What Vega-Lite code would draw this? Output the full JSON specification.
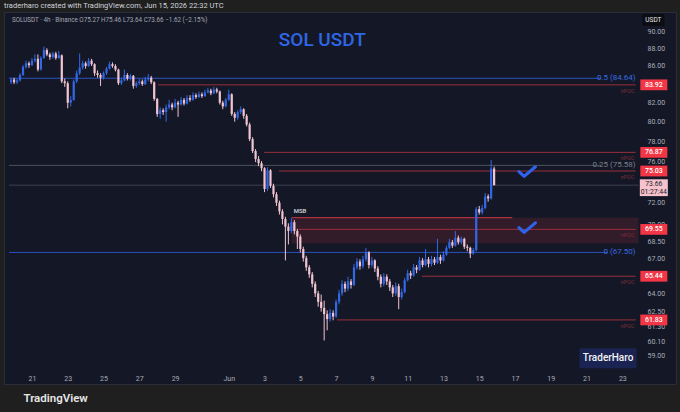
{
  "$schema": "https://vega.github.io/schema/vega-lite/v6.json",
  "width": 672,
  "height": 372,
  "autosize": {"type": "none"},
  "padding": {"left": 4, "top": 12, "right": 4, "bottom": 28},
  "background": "#1f1f20",
  "title": {
    "text": "traderharo created with TradingView.com, Jun 15, 2026 22:32 UTC",
    "anchor": "start",
    "frame": "group",
    "offset": 3,
    "font": "Roboto",
    "fontSize": 7.5,
    "fontWeight": "normal",
    "color": "#d1d4dc"
  },
  "config": {
    "view": {"fill": "#141826", "stroke": "#2a2e39"},
    "text": {"font": "Roboto"}
  },
  "datasets": {
    "candles": [
      {"t": "2026-05-19T20:00Z", "o": 84.2, "h": 84.7, "l": 84.0, "c": 84.5},
      {"t": "2026-05-20T00:00Z", "o": 84.5, "h": 84.7, "l": 84.0, "c": 84.2},
      {"t": "2026-05-20T04:00Z", "o": 84.2, "h": 84.6, "l": 84.0, "c": 84.4},
      {"t": "2026-05-20T08:00Z", "o": 84.4, "h": 85.2, "l": 84.3, "c": 85.0},
      {"t": "2026-05-20T12:00Z", "o": 85.0, "h": 86.1, "l": 84.9, "c": 85.9},
      {"t": "2026-05-20T16:00Z", "o": 85.9, "h": 86.6, "l": 85.7, "c": 86.3},
      {"t": "2026-05-20T20:00Z", "o": 86.3, "h": 86.5, "l": 85.8, "c": 86.1},
      {"t": "2026-05-21T00:00Z", "o": 86.1, "h": 86.9, "l": 86.0, "c": 86.6},
      {"t": "2026-05-21T04:00Z", "o": 86.6, "h": 87.3, "l": 86.4, "c": 86.8},
      {"t": "2026-05-21T08:00Z", "o": 86.8, "h": 87.3, "l": 85.4, "c": 85.6},
      {"t": "2026-05-21T12:00Z", "o": 85.6, "h": 87.1, "l": 85.5, "c": 86.9},
      {"t": "2026-05-21T16:00Z", "o": 86.9, "h": 88.2, "l": 86.8, "c": 87.8},
      {"t": "2026-05-21T20:00Z", "o": 87.8, "h": 88.0, "l": 87.1, "c": 87.3},
      {"t": "2026-05-22T00:00Z", "o": 87.3, "h": 87.5, "l": 86.7, "c": 87.0},
      {"t": "2026-05-22T04:00Z", "o": 87.0, "h": 87.6, "l": 86.8, "c": 87.4},
      {"t": "2026-05-22T08:00Z", "o": 87.4, "h": 87.6, "l": 86.7, "c": 86.9},
      {"t": "2026-05-22T12:00Z", "o": 86.9, "h": 87.7, "l": 86.8, "c": 87.2},
      {"t": "2026-05-22T16:00Z", "o": 87.2, "h": 87.3, "l": 84.1, "c": 84.3},
      {"t": "2026-05-22T20:00Z", "o": 84.3, "h": 84.6, "l": 83.7, "c": 84.1},
      {"t": "2026-05-23T00:00Z", "o": 84.1, "h": 84.3, "l": 81.4, "c": 82.0},
      {"t": "2026-05-23T04:00Z", "o": 82.0, "h": 82.7, "l": 81.6, "c": 82.3},
      {"t": "2026-05-23T08:00Z", "o": 82.3, "h": 84.5, "l": 82.2, "c": 84.3},
      {"t": "2026-05-23T12:00Z", "o": 84.3, "h": 85.5, "l": 84.1, "c": 85.2},
      {"t": "2026-05-23T16:00Z", "o": 85.2, "h": 87.4, "l": 85.0, "c": 85.8},
      {"t": "2026-05-23T20:00Z", "o": 85.8, "h": 86.6, "l": 85.6, "c": 86.3},
      {"t": "2026-05-24T00:00Z", "o": 86.3, "h": 86.5, "l": 85.7, "c": 86.0},
      {"t": "2026-05-24T04:00Z", "o": 86.0, "h": 86.9, "l": 85.9, "c": 86.6},
      {"t": "2026-05-24T08:00Z", "o": 86.6, "h": 86.8, "l": 86.0, "c": 86.2},
      {"t": "2026-05-24T12:00Z", "o": 86.2, "h": 86.3, "l": 84.9, "c": 85.2},
      {"t": "2026-05-24T16:00Z", "o": 85.2, "h": 85.5, "l": 84.7, "c": 85.0},
      {"t": "2026-05-24T20:00Z", "o": 85.0, "h": 85.2, "l": 83.8, "c": 84.7},
      {"t": "2026-05-25T00:00Z", "o": 84.7, "h": 85.4, "l": 84.5, "c": 85.2},
      {"t": "2026-05-25T04:00Z", "o": 85.2, "h": 85.9, "l": 85.0, "c": 85.7},
      {"t": "2026-05-25T08:00Z", "o": 85.7, "h": 86.5, "l": 85.6, "c": 86.2},
      {"t": "2026-05-25T12:00Z", "o": 86.2, "h": 86.4, "l": 85.8, "c": 86.0},
      {"t": "2026-05-25T16:00Z", "o": 86.0, "h": 86.2, "l": 85.4, "c": 85.6},
      {"t": "2026-05-25T20:00Z", "o": 85.6, "h": 85.7, "l": 83.9, "c": 84.1},
      {"t": "2026-05-26T00:00Z", "o": 84.1, "h": 84.7, "l": 83.9, "c": 84.4},
      {"t": "2026-05-26T04:00Z", "o": 84.4, "h": 85.6, "l": 84.3, "c": 85.0},
      {"t": "2026-05-26T08:00Z", "o": 85.0, "h": 85.2, "l": 84.4, "c": 84.6},
      {"t": "2026-05-26T12:00Z", "o": 84.6, "h": 85.1, "l": 84.4, "c": 84.9},
      {"t": "2026-05-26T16:00Z", "o": 84.9, "h": 85.0, "l": 83.5, "c": 83.8},
      {"t": "2026-05-26T20:00Z", "o": 83.8, "h": 84.3, "l": 83.6, "c": 84.1},
      {"t": "2026-05-27T00:00Z", "o": 84.1, "h": 84.6, "l": 83.9, "c": 84.3},
      {"t": "2026-05-27T04:00Z", "o": 84.3, "h": 84.5, "l": 83.8, "c": 84.0},
      {"t": "2026-05-27T08:00Z", "o": 84.0, "h": 84.8, "l": 83.9, "c": 84.5},
      {"t": "2026-05-27T12:00Z", "o": 84.5, "h": 85.1, "l": 84.3, "c": 84.7},
      {"t": "2026-05-27T16:00Z", "o": 84.7, "h": 84.9, "l": 84.0, "c": 84.2},
      {"t": "2026-05-27T20:00Z", "o": 84.2, "h": 84.3, "l": 82.2, "c": 82.4},
      {"t": "2026-05-28T00:00Z", "o": 82.4, "h": 82.5, "l": 80.5, "c": 80.8},
      {"t": "2026-05-28T04:00Z", "o": 80.8, "h": 81.5, "l": 80.3, "c": 81.2},
      {"t": "2026-05-28T08:00Z", "o": 81.2, "h": 81.4, "l": 80.7, "c": 81.0},
      {"t": "2026-05-28T12:00Z", "o": 81.0, "h": 81.8, "l": 80.0, "c": 81.5},
      {"t": "2026-05-28T16:00Z", "o": 81.5, "h": 82.3, "l": 81.3, "c": 81.8},
      {"t": "2026-05-28T20:00Z", "o": 81.8, "h": 82.0, "l": 81.2, "c": 81.5},
      {"t": "2026-05-29T00:00Z", "o": 81.5, "h": 82.4, "l": 81.4, "c": 82.0},
      {"t": "2026-05-29T04:00Z", "o": 82.0, "h": 82.2, "l": 80.5, "c": 81.8},
      {"t": "2026-05-29T08:00Z", "o": 81.8, "h": 82.6, "l": 81.7, "c": 82.3},
      {"t": "2026-05-29T12:00Z", "o": 82.3, "h": 82.5, "l": 81.7, "c": 81.9},
      {"t": "2026-05-29T16:00Z", "o": 81.9, "h": 82.8, "l": 81.8, "c": 82.5},
      {"t": "2026-05-29T20:00Z", "o": 82.5, "h": 82.8, "l": 82.1, "c": 82.3},
      {"t": "2026-05-30T00:00Z", "o": 82.3, "h": 83.1, "l": 82.2, "c": 82.8},
      {"t": "2026-05-30T04:00Z", "o": 82.8, "h": 83.0, "l": 82.4, "c": 82.6},
      {"t": "2026-05-30T08:00Z", "o": 82.6, "h": 83.2, "l": 82.5, "c": 82.9},
      {"t": "2026-05-30T12:00Z", "o": 82.9, "h": 83.1, "l": 82.5, "c": 82.7},
      {"t": "2026-05-30T16:00Z", "o": 82.7, "h": 83.4, "l": 82.6, "c": 83.1},
      {"t": "2026-05-30T20:00Z", "o": 83.1, "h": 83.6, "l": 83.0, "c": 83.3},
      {"t": "2026-05-31T00:00Z", "o": 83.3, "h": 83.5, "l": 82.8, "c": 83.0},
      {"t": "2026-05-31T04:00Z", "o": 83.0, "h": 83.7, "l": 82.9, "c": 83.4},
      {"t": "2026-05-31T08:00Z", "o": 83.4, "h": 83.6, "l": 83.0, "c": 83.2},
      {"t": "2026-05-31T12:00Z", "o": 83.2, "h": 83.3, "l": 81.8, "c": 82.0},
      {"t": "2026-05-31T16:00Z", "o": 82.0, "h": 82.2, "l": 81.3, "c": 81.6},
      {"t": "2026-05-31T20:00Z", "o": 81.6, "h": 82.5, "l": 81.5, "c": 82.3},
      {"t": "2026-06-01T00:00Z", "o": 82.3, "h": 83.4, "l": 82.2, "c": 82.9},
      {"t": "2026-06-01T04:00Z", "o": 82.9, "h": 83.0, "l": 80.6, "c": 80.8},
      {"t": "2026-06-01T08:00Z", "o": 80.8, "h": 81.0, "l": 80.0, "c": 80.4},
      {"t": "2026-06-01T12:00Z", "o": 80.4, "h": 81.2, "l": 80.2, "c": 81.0},
      {"t": "2026-06-01T16:00Z", "o": 81.0, "h": 81.6, "l": 80.8, "c": 81.3},
      {"t": "2026-06-01T20:00Z", "o": 81.3, "h": 81.4, "l": 80.3, "c": 80.6},
      {"t": "2026-06-02T00:00Z", "o": 80.6, "h": 80.8, "l": 79.5, "c": 79.7},
      {"t": "2026-06-02T04:00Z", "o": 79.7, "h": 79.9, "l": 78.0, "c": 78.2},
      {"t": "2026-06-02T08:00Z", "o": 78.2, "h": 78.4, "l": 76.8, "c": 77.0},
      {"t": "2026-06-02T12:00Z", "o": 77.0, "h": 77.2, "l": 75.9, "c": 76.2},
      {"t": "2026-06-02T16:00Z", "o": 76.2, "h": 76.5, "l": 75.5, "c": 75.8},
      {"t": "2026-06-02T20:00Z", "o": 75.8, "h": 76.0, "l": 75.0, "c": 75.3},
      {"t": "2026-06-03T00:00Z", "o": 75.3, "h": 75.4, "l": 73.0, "c": 73.3},
      {"t": "2026-06-03T04:00Z", "o": 73.3, "h": 75.4, "l": 73.1, "c": 75.1},
      {"t": "2026-06-03T08:00Z", "o": 75.1, "h": 75.2, "l": 73.4, "c": 73.6},
      {"t": "2026-06-03T12:00Z", "o": 73.6, "h": 73.8, "l": 72.5, "c": 72.8},
      {"t": "2026-06-03T16:00Z", "o": 72.8, "h": 73.0, "l": 71.7, "c": 72.0},
      {"t": "2026-06-03T20:00Z", "o": 72.0, "h": 72.2, "l": 70.9, "c": 71.2},
      {"t": "2026-06-04T00:00Z", "o": 71.2, "h": 71.4, "l": 70.0, "c": 70.5},
      {"t": "2026-06-04T04:00Z", "o": 70.5, "h": 70.7, "l": 66.8, "c": 69.8},
      {"t": "2026-06-04T08:00Z", "o": 69.8, "h": 70.1, "l": 68.2, "c": 69.4},
      {"t": "2026-06-04T12:00Z", "o": 69.4, "h": 70.6, "l": 69.2, "c": 70.2},
      {"t": "2026-06-04T16:00Z", "o": 70.2, "h": 70.4, "l": 69.1, "c": 69.4},
      {"t": "2026-06-04T20:00Z", "o": 69.4, "h": 69.6, "l": 67.8, "c": 68.9},
      {"t": "2026-06-05T00:00Z", "o": 68.9, "h": 69.1, "l": 67.5, "c": 67.8},
      {"t": "2026-06-05T04:00Z", "o": 67.8, "h": 68.0, "l": 66.7, "c": 67.0},
      {"t": "2026-06-05T08:00Z", "o": 67.0, "h": 67.2, "l": 65.9, "c": 66.2},
      {"t": "2026-06-05T12:00Z", "o": 66.2, "h": 66.4, "l": 65.3, "c": 65.6},
      {"t": "2026-06-05T16:00Z", "o": 65.6, "h": 65.8, "l": 64.5, "c": 64.8},
      {"t": "2026-06-05T20:00Z", "o": 64.8, "h": 65.0, "l": 63.7, "c": 64.0},
      {"t": "2026-06-06T00:00Z", "o": 64.0, "h": 64.2, "l": 62.9, "c": 63.3},
      {"t": "2026-06-06T04:00Z", "o": 63.3, "h": 63.9, "l": 62.5, "c": 62.8},
      {"t": "2026-06-06T08:00Z", "o": 62.8, "h": 63.4, "l": 60.2, "c": 62.3},
      {"t": "2026-06-06T12:00Z", "o": 62.3, "h": 62.6, "l": 61.0, "c": 61.9},
      {"t": "2026-06-06T16:00Z", "o": 61.9, "h": 62.7, "l": 61.7, "c": 62.4},
      {"t": "2026-06-06T20:00Z", "o": 62.4, "h": 62.6, "l": 61.8, "c": 62.1},
      {"t": "2026-06-07T00:00Z", "o": 62.1, "h": 63.5, "l": 62.0, "c": 63.3},
      {"t": "2026-06-07T04:00Z", "o": 63.3, "h": 64.3, "l": 63.1, "c": 64.0},
      {"t": "2026-06-07T08:00Z", "o": 64.0, "h": 65.1, "l": 63.8, "c": 64.8},
      {"t": "2026-06-07T12:00Z", "o": 64.8, "h": 65.0, "l": 64.1, "c": 64.4},
      {"t": "2026-06-07T16:00Z", "o": 64.4, "h": 65.4, "l": 64.2, "c": 65.0},
      {"t": "2026-06-07T20:00Z", "o": 65.0, "h": 65.2, "l": 64.4, "c": 64.7},
      {"t": "2026-06-08T00:00Z", "o": 64.7, "h": 66.5, "l": 64.6, "c": 66.2},
      {"t": "2026-06-08T04:00Z", "o": 66.2, "h": 67.0, "l": 66.0, "c": 66.7},
      {"t": "2026-06-08T08:00Z", "o": 66.7, "h": 66.9, "l": 66.0, "c": 66.3},
      {"t": "2026-06-08T12:00Z", "o": 66.3, "h": 67.2, "l": 66.1, "c": 66.9},
      {"t": "2026-06-08T16:00Z", "o": 66.9, "h": 67.9, "l": 66.7, "c": 67.5},
      {"t": "2026-06-08T20:00Z", "o": 67.5, "h": 67.6, "l": 66.1, "c": 66.4},
      {"t": "2026-06-09T00:00Z", "o": 66.4, "h": 67.1, "l": 66.2, "c": 66.8},
      {"t": "2026-06-09T04:00Z", "o": 66.8, "h": 66.9, "l": 65.8, "c": 66.1},
      {"t": "2026-06-09T08:00Z", "o": 66.1, "h": 66.3, "l": 65.1, "c": 65.4},
      {"t": "2026-06-09T12:00Z", "o": 65.4, "h": 65.6, "l": 64.5, "c": 64.8},
      {"t": "2026-06-09T16:00Z", "o": 64.8, "h": 65.7, "l": 64.6, "c": 65.4},
      {"t": "2026-06-09T20:00Z", "o": 65.4, "h": 65.6, "l": 64.7, "c": 65.0},
      {"t": "2026-06-10T00:00Z", "o": 65.0, "h": 65.2, "l": 64.2, "c": 64.5},
      {"t": "2026-06-10T04:00Z", "o": 64.5, "h": 64.7, "l": 63.7, "c": 64.0},
      {"t": "2026-06-10T08:00Z", "o": 64.0, "h": 64.9, "l": 63.8, "c": 64.6},
      {"t": "2026-06-10T12:00Z", "o": 64.6, "h": 64.8, "l": 62.7, "c": 63.7},
      {"t": "2026-06-10T16:00Z", "o": 63.7, "h": 64.4, "l": 63.5, "c": 64.1},
      {"t": "2026-06-10T20:00Z", "o": 64.1, "h": 65.3, "l": 64.0, "c": 65.1},
      {"t": "2026-06-11T00:00Z", "o": 65.1, "h": 66.0, "l": 65.0, "c": 65.7},
      {"t": "2026-06-11T04:00Z", "o": 65.7, "h": 65.9, "l": 65.2, "c": 65.5},
      {"t": "2026-06-11T08:00Z", "o": 65.5, "h": 66.5, "l": 65.4, "c": 66.2},
      {"t": "2026-06-11T12:00Z", "o": 66.2, "h": 66.4, "l": 65.7, "c": 66.0},
      {"t": "2026-06-11T16:00Z", "o": 66.0, "h": 67.1, "l": 65.9, "c": 66.8},
      {"t": "2026-06-11T20:00Z", "o": 66.8, "h": 67.0, "l": 66.2, "c": 66.4},
      {"t": "2026-06-12T00:00Z", "o": 66.4, "h": 67.8, "l": 66.3, "c": 66.9},
      {"t": "2026-06-12T04:00Z", "o": 66.9, "h": 67.1, "l": 66.2, "c": 66.5},
      {"t": "2026-06-12T08:00Z", "o": 66.5, "h": 67.2, "l": 66.3, "c": 66.9},
      {"t": "2026-06-12T12:00Z", "o": 66.9, "h": 67.1, "l": 66.4, "c": 66.6},
      {"t": "2026-06-12T16:00Z", "o": 66.6, "h": 68.7, "l": 66.5, "c": 67.1},
      {"t": "2026-06-12T20:00Z", "o": 67.1, "h": 67.3, "l": 66.5, "c": 66.8},
      {"t": "2026-06-13T00:00Z", "o": 66.8, "h": 67.6, "l": 66.7, "c": 67.3},
      {"t": "2026-06-13T04:00Z", "o": 67.3, "h": 68.1, "l": 67.2, "c": 67.9},
      {"t": "2026-06-13T08:00Z", "o": 67.9, "h": 68.7, "l": 67.8, "c": 68.4},
      {"t": "2026-06-13T12:00Z", "o": 68.4, "h": 68.6, "l": 67.9, "c": 68.1},
      {"t": "2026-06-13T16:00Z", "o": 68.1, "h": 69.4, "l": 68.0, "c": 68.8},
      {"t": "2026-06-13T20:00Z", "o": 68.8, "h": 69.0, "l": 68.2, "c": 68.4},
      {"t": "2026-06-14T00:00Z", "o": 68.4, "h": 68.9, "l": 68.2, "c": 68.7},
      {"t": "2026-06-14T04:00Z", "o": 68.7, "h": 68.8, "l": 67.8, "c": 68.0},
      {"t": "2026-06-14T08:00Z", "o": 68.0, "h": 68.2, "l": 67.6, "c": 67.9},
      {"t": "2026-06-14T12:00Z", "o": 67.9, "h": 68.0, "l": 67.0, "c": 67.4},
      {"t": "2026-06-14T16:00Z", "o": 67.4, "h": 67.9, "l": 67.3, "c": 67.7},
      {"t": "2026-06-14T20:00Z", "o": 67.7, "h": 71.6, "l": 67.6, "c": 71.4},
      {"t": "2026-06-15T00:00Z", "o": 71.4, "h": 71.7, "l": 70.9, "c": 71.1},
      {"t": "2026-06-15T04:00Z", "o": 71.1, "h": 71.8, "l": 70.9, "c": 71.5},
      {"t": "2026-06-15T08:00Z", "o": 71.5, "h": 72.9, "l": 71.4, "c": 72.6},
      {"t": "2026-06-15T12:00Z", "o": 72.6, "h": 72.8, "l": 72.1, "c": 72.4},
      {"t": "2026-06-15T16:00Z", "o": 72.4, "h": 76.1, "l": 72.3, "c": 75.27},
      {"t": "2026-06-15T20:00Z", "o": 75.27, "h": 75.46, "l": 73.64, "c": 73.66}
    ],
    "levels": [
      {"k": "fib", "p": 84.64, "t": "2026-05-19T17:12Z", "t2": "2026-06-21T19:25Z"},
      {"k": "fibg", "p": 75.58, "t": "2026-05-19T17:12Z", "t2": "2026-06-21T19:25Z"},
      {"k": "fib", "p": 67.5, "t": "2026-05-19T17:12Z", "t2": "2026-06-22T04:50Z"},
      {"k": "cur", "p": 73.66, "t": "2026-05-19T17:12Z", "t2": "2026-06-23T21:40Z"},
      {"k": "poc", "p": 83.92, "t": "2026-05-28T00:45Z", "t2": "2026-06-23T17:50Z"},
      {"k": "poc", "p": 76.87, "t": "2026-06-02T23:30Z", "t2": "2026-06-23T17:50Z"},
      {"k": "poc", "p": 75.03, "t": "2026-06-03T19:25Z", "t2": "2026-06-23T17:50Z"},
      {"k": "poc", "p": 69.55, "t": "2026-06-04T21:50Z", "t2": "2026-06-23T17:50Z"},
      {"k": "poc", "p": 65.44, "t": "2026-06-11T19:00Z", "t2": "2026-06-23T17:50Z"},
      {"k": "poc", "p": 61.83, "t": "2026-06-07T01:10Z", "t2": "2026-06-23T17:50Z"},
      {"k": "msb", "p": 70.61, "t": "2026-06-04T12:30Z", "t2": "2026-06-16T20:25Z"}
    ],
    "tags": [
      {"t": "2026-06-24T18:15Z", "p": 83.92, "s": "83.92"},
      {"t": "2026-06-24T18:15Z", "p": 76.87, "s": "76.87"},
      {"t": "2026-06-24T18:15Z", "p": 75.03, "s": "75.03"},
      {"t": "2026-06-24T18:15Z", "p": 69.55, "s": "69.55"},
      {"t": "2026-06-24T18:15Z", "p": 65.44, "s": "65.44"},
      {"t": "2026-06-24T18:15Z", "p": 61.83, "s": "61.83"}
    ]
  },
  "encoding": {
    "x": {
      "field": "t",
      "type": "temporal",
      "scale": {
        "type": "utc",
        "domain": [
          {"year": 2026, "month": 5, "date": 19, "hours": 17, "minutes": 12, "utc": true},
          {"year": 2026, "month": 6, "date": 25, "hours": 17, "minutes": 17, "utc": true}
        ]
      },
      "axis": {
        "title": "TradingView",
        "titleX": 19,
        "titleY": 25,
        "titleAlign": "left",
        "titleAnchor": "start",
        "titleBaseline": "middle",
        "titleFont": "Roboto",
        "titleFontSize": 11.5,
        "titleFontWeight": 600,
        "titleColor": "#e6e6e6",
        "offset": -11,
        "domain": false,
        "ticks": false,
        "grid": false,
        "labelPadding": 1,
        "labelBaseline": "top",
        "labelFont": "Roboto",
        "labelFontSize": 7,
        "labelColor": "#a9acb6",
        "labelOverlap": false,
        "labelFlush": false,
        "values": [
          {"year": 2026, "month": 5, "date": 21, "utc": true},
          {"year": 2026, "month": 5, "date": 23, "utc": true},
          {"year": 2026, "month": 5, "date": 25, "utc": true},
          {"year": 2026, "month": 5, "date": 27, "utc": true},
          {"year": 2026, "month": 5, "date": 29, "utc": true},
          {"year": 2026, "month": 6, "date": 1, "utc": true},
          {"year": 2026, "month": 6, "date": 3, "utc": true},
          {"year": 2026, "month": 6, "date": 5, "utc": true},
          {"year": 2026, "month": 6, "date": 7, "utc": true},
          {"year": 2026, "month": 6, "date": 9, "utc": true},
          {"year": 2026, "month": 6, "date": 11, "utc": true},
          {"year": 2026, "month": 6, "date": 13, "utc": true},
          {"year": 2026, "month": 6, "date": 15, "utc": true},
          {"year": 2026, "month": 6, "date": 17, "utc": true},
          {"year": 2026, "month": 6, "date": 19, "utc": true},
          {"year": 2026, "month": 6, "date": 21, "utc": true},
          {"year": 2026, "month": 6, "date": 23, "utc": true}
        ],
        "labelExpr": "utcdate(datum.value) == 1 ? 'Jun' : '' + utcdate(datum.value)"
      }
    },
    "y": {
      "field": "p",
      "type": "quantitative",
      "scale": {"type": "log", "domain": [56.89, 92.25], "nice": false, "zero": false},
      "axis": {
        "orient": "right",
        "title": null,
        "offset": -31,
        "domain": false,
        "ticks": false,
        "grid": false,
        "labelPadding": 2,
        "labelFont": "Roboto",
        "labelFontSize": 7,
        "labelColor": "#a9acb6",
        "labelOverlap": false,
        "labelFlush": false,
        "format": ".2f",
        "values": [59, 60.1, 61.3, 62.5, 64, 67, 68.5, 70, 72, 76, 78, 80, 82, 86, 88, 90]
      }
    }
  },
  "layer": [
    {
      "data": {"values": [{"t": "2026-06-04T12:30Z", "t2": "2026-06-23T21:40Z", "p": 70.61, "p2": 68.3}]},
      "mark": {"type": "rect", "color": "#f23645", "opacity": 0.14},
      "encoding": {"x2": {"field": "t2"}, "y2": {"field": "p2"}}
    },
    {
      "data": {"name": "levels"},
      "mark": {"type": "rule", "strokeWidth": 1},
      "encoding": {
        "x2": {"field": "t2"},
        "color": {
          "field": "k",
          "type": "nominal",
          "legend": null,
          "scale": {
            "domain": ["fib", "fibg", "cur", "poc", "msb"],
            "range": ["#2a52c0", "#4d515d", "#3c404b", "#9a2e3c", "#d03848"]
          }
        }
      }
    },
    {
      "data": {"name": "candles"},
      "mark": {"type": "rule", "strokeWidth": 1},
      "encoding": {
        "y": {"field": "l", "type": "quantitative", "title": null},
        "y2": {"field": "h"},
        "color": {
          "condition": {"test": "datum.c >= datum.o", "value": "#3268e6"},
          "value": "#f2c4d1"
        }
      }
    },
    {
      "data": {"name": "candles"},
      "mark": {"type": "bar", "size": 2.2},
      "encoding": {
        "y": {"field": "o", "type": "quantitative", "title": null},
        "y2": {"field": "c"},
        "color": {
          "condition": {"test": "datum.c >= datum.o", "value": "#3268e6"},
          "value": "#f2c4d1"
        }
      }
    },
    {
      "data": {"values": [
        {"t": "2026-06-23T17:50Z", "p": 84.64, "s": "0.5 (84.64)", "k": "fib"},
        {"t": "2026-06-23T17:50Z", "p": 75.58, "s": "0.25 (75.58)", "k": "fibg"},
        {"t": "2026-06-23T17:50Z", "p": 67.5, "s": "0 (67.50)", "k": "fib"}
      ]},
      "mark": {"type": "text", "align": "right", "baseline": "middle", "fontSize": 8},
      "encoding": {
        "text": {"field": "s"},
        "color": {
          "condition": {"test": "datum.k == 'fibg'", "value": "#7c7f8a"},
          "value": "#3a6ae0"
        }
      }
    },
    {
      "data": {"values": [
        {"t": "2026-06-23T17:50Z", "p": 83.92, "s": "nPOC"},
        {"t": "2026-06-23T17:50Z", "p": 76.87, "s": "nPOC"},
        {"t": "2026-06-23T17:50Z", "p": 75.03, "s": "nPOC"},
        {"t": "2026-06-23T17:50Z", "p": 69.55, "s": "nPOC"},
        {"t": "2026-06-23T17:50Z", "p": 65.44, "s": "nPOC"},
        {"t": "2026-06-23T17:50Z", "p": 61.83, "s": "nPOC"}
      ]},
      "mark": {"type": "text", "align": "right", "baseline": "middle", "dy": 6, "dx": -1, "fontSize": 5.5, "color": "#7e2d3a"},
      "encoding": {"text": {"field": "s"}}
    },
    {
      "data": {"values": [
        {"t": "2026-06-17T16:20Z", "p": 74.93},
        {"t": "2026-06-17T16:20Z", "p": 69.67}
      ]},
      "mark": {
        "type": "point",
        "shape": "M-0.95,-0.05L-0.35,0.5L0.95,-0.6",
        "size": 300,
        "filled": false,
        "opacity": 1,
        "color": "#2f62ec",
        "strokeWidth": 3.2,
        "strokeCap": "round",
        "strokeJoin": "round"
      }
    },
    {
      "data": {"values": [{"t": "2026-06-06T05:30Z", "p": 88.95, "s": "SOL USDT"}]},
      "mark": {"type": "text", "align": "center", "baseline": "middle", "fontSize": 19, "fontWeight": 500, "color": "#2f66e6"},
      "encoding": {"text": {"field": "s"}}
    },
    {
      "data": {"values": [{"t": "2026-05-19T21:10Z", "p": 91.3, "s": "SOLUSDT · 4h · Binance  O75.27  H75.46  L73.64  C73.66  −1.62 (−2.15%)"}]},
      "mark": {"type": "text", "align": "left", "baseline": "middle", "fontSize": 6.3, "color": "#a4a7b1"},
      "encoding": {"text": {"field": "s"}}
    },
    {
      "data": {"values": [{"t": "2026-06-04T15:10Z", "p": 71.23, "s": "MSB"}]},
      "mark": {"type": "text", "align": "left", "baseline": "middle", "fontSize": 6, "fontWeight": 500, "color": "#d6d8de"},
      "encoding": {"text": {"field": "s"}}
    },
    {
      "data": {"name": "tags"},
      "mark": {"type": "point", "shape": "M-1,-0.4H1V0.4H-1Z", "size": 729, "filled": true, "opacity": 1, "color": "#f23645", "strokeWidth": 0}
    },
    {
      "data": {"name": "tags"},
      "mark": {"type": "text", "align": "center", "baseline": "middle", "fontSize": 7, "fontWeight": 500, "color": "#ffffff"},
      "encoding": {"text": {"field": "s"}}
    },
    {
      "data": {"values": [{"t": "2026-06-24T18:15Z", "p": 73.66}]},
      "mark": {"type": "point", "shape": "M-1,-0.42H1V0.78H-1Z", "size": 784, "filled": true, "opacity": 1, "color": "#f6c2cd", "strokeWidth": 0}
    },
    {
      "data": {"values": [{"t": "2026-06-24T18:15Z", "p": 73.66, "s": "73.66\n01:27:44"}]},
      "mark": {"type": "text", "align": "center", "baseline": "top", "dy": -4, "lineBreak": "\n", "lineHeight": 7.5, "fontSize": 6.8, "color": "#1a1d29"},
      "encoding": {"text": {"field": "s"}}
    },
    {
      "data": {"values": [{"t": "2026-06-24T17:40Z", "p": 91.3, "s": "USDT"}]},
      "mark": {"type": "point", "shape": "M-1,-0.55H1V0.55H-1Z", "size": 484, "filled": true, "opacity": 1, "color": "#0b0d13", "strokeWidth": 0}
    },
    {
      "data": {"values": [{"t": "2026-06-24T17:40Z", "p": 91.3, "s": "USDT"}]},
      "mark": {"type": "text", "align": "center", "baseline": "middle", "fontSize": 6.5, "color": "#e8e8ea"},
      "encoding": {"text": {"field": "s"}}
    },
    {
      "data": {"values": [{"t": "2026-06-22T04:50Z", "p": 58.83, "s": "TraderHaro"}]},
      "mark": {"type": "point", "shape": "M-1,-0.35H1V0.35H-1Z", "size": 3249, "filled": true, "opacity": 1, "color": "#1b2352", "strokeWidth": 0}
    },
    {
      "data": {"values": [{"t": "2026-06-22T04:50Z", "p": 58.83, "s": "TraderHaro"}]},
      "mark": {"type": "text", "align": "center", "baseline": "middle", "fontSize": 10, "fontWeight": 500, "color": "#f2f2f5"},
      "encoding": {"text": {"field": "s"}}
    }
  ]
}
